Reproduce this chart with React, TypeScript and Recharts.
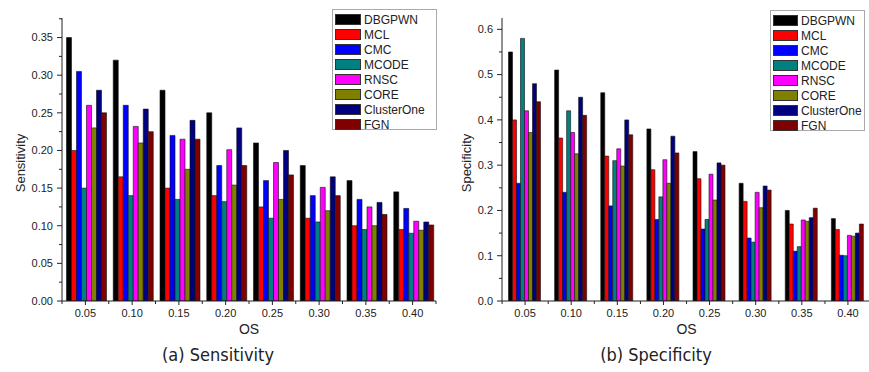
import React from 'react';
import { BarChart, Bar, XAxis, YAxis } from 'recharts';

const categories = ['0.05', '0.10', '0.15', '0.20', '0.25', '0.30', '0.35', '0.40'];
const methods = ['DBGPWN', 'MCL', 'CMC', 'MCODE', 'RNSC', 'CORE', 'ClusterOne', 'FGN'];
const colors = ['#000000', '#ff0000', '#0000ff', '#008080', '#ff00ff', '#808000', '#000080', '#800000'];

// (a) Sensitivity
const sensDBGPWN = [0.35, 0.32, 0.28, 0.25, 0.21, 0.18, 0.16, 0.145];
const sensMCL = [0.2, 0.165, 0.15, 0.14, 0.125, 0.11, 0.1, 0.095];
const sensCMC = [0.305, 0.26, 0.22, 0.18, 0.16, 0.14, 0.135, 0.123];
const sensMCODE = [0.15, 0.14, 0.135, 0.132, 0.11, 0.105, 0.095, 0.09];
const sensRNSC = [0.26, 0.232, 0.215, 0.201, 0.184, 0.151, 0.125, 0.106];
const sensCORE = [0.23, 0.21, 0.175, 0.154, 0.135, 0.12, 0.1, 0.094];
const sensClusterOne = [0.28, 0.255, 0.24, 0.23, 0.2, 0.165, 0.131, 0.105];
const sensFGN = [0.25, 0.225, 0.215, 0.18, 0.1675, 0.14, 0.115, 0.101];

// (b) Specificity
const specDBGPWN = [0.55, 0.51, 0.46, 0.38, 0.33, 0.26, 0.2, 0.182];
const specMCL = [0.4, 0.36, 0.32, 0.29, 0.27, 0.22, 0.17, 0.158];
const specCMC = [0.26, 0.24, 0.21, 0.18, 0.159, 0.139, 0.11, 0.101];
const specMCODE = [0.58, 0.42, 0.31, 0.23, 0.18, 0.13, 0.12, 0.1];
const specRNSC = [0.42, 0.372, 0.336, 0.312, 0.28, 0.24, 0.179, 0.145];
const specCORE = [0.372, 0.325, 0.298, 0.26, 0.223, 0.206, 0.176, 0.143];
const specClusterOne = [0.48, 0.45, 0.4, 0.364, 0.305, 0.254, 0.184, 0.15];
const specFGN = [0.44, 0.41, 0.367, 0.327, 0.3, 0.245, 0.205, 0.17];

const sensTicks = [0, 0.025, 0.05, 0.075, 0.1, 0.125, 0.15, 0.175, 0.2, 0.225, 0.25, 0.275, 0.3, 0.325, 0.35, 0.375];
const specTicks = [0, 0.05, 0.1, 0.15, 0.2, 0.25, 0.3, 0.35, 0.4, 0.45, 0.5, 0.55, 0.6];

const buildRows = (series: number[][]) =>
  categories.map((os, i) => {
    const row: any = { os };
    methods.forEach((m, j) => (row[m] = series[j][i]));
    return row;
  });

const sensRows = buildRows([sensDBGPWN, sensMCL, sensCMC, sensMCODE, sensRNSC, sensCORE, sensClusterOne, sensFGN]);
const specRows = buildRows([specDBGPWN, specMCL, specCMC, specMCODE, specRNSC, specCORE, specClusterOne, specFGN]);

const FONT = '"Liberation Sans", Arial, sans-serif';
const AXIS = '#222';

const makeYTick = (step: number, digits: number) => (props: any) => {
  const { x, y, payload } = props;
  const ax = x + 9;
  const major = Math.abs(payload.value / step - Math.round(payload.value / step)) < 1e-6;
  return (
    <g>
      <line x1={ax - (major ? 5 : 3)} x2={ax} y1={y} y2={y} stroke={AXIS} strokeWidth={1} />
      {major && (
        <text x={x} y={y} dy="0.35em" textAnchor="end" fontSize={11} fontFamily={FONT} fill="#222">
          {payload.value.toFixed(digits)}
        </text>
      )}
    </g>
  );
};

const makeXTick = (bw: number) => (props: any) => {
  const { x, y, payload, index } = props;
  const ay = y - 8;
  return (
    <g>
      <line x1={x} x2={x} y1={ay} y2={ay + 4} stroke={AXIS} />
      <line x1={x - bw / 2} x2={x - bw / 2} y1={ay} y2={ay + 3} stroke={AXIS} />
      {index === categories.length - 1 && (
        <line x1={x + bw / 2} x2={x + bw / 2} y1={ay} y2={ay + 3} stroke={AXIS} />
      )}
      <text x={x} y={y} dy="0.71em" textAnchor="middle" fontSize={11} fontFamily={FONT} fill="#222">
        {payload.value}
      </text>
    </g>
  );
};

const LegendBox = ({ left, top, width, swatch }: { left: number; top: number; width: number; swatch: number }) => (
  <div
    style={{
      position: 'absolute',
      left,
      top,
      width,
      height: 121,
      border: '1px solid #aaa',
      background: '#fff',
      boxSizing: 'border-box',
      paddingTop: 2,
    }}
  >
    {methods.map((m, i) => (
      <div key={m} style={{ display: 'flex', alignItems: 'center', height: 15 }}>
        <div
          style={{
            width: swatch,
            height: 11,
            marginLeft: 2,
            marginRight: 3,
            background: colors[i],
            border: '1px solid #333',
            boxSizing: 'border-box',
          }}
        />
        <span style={{ fontFamily: FONT, fontSize: 12, color: '#222' }}>{m}</span>
      </div>
    ))}
  </div>
);

const Panel = ({
  rows,
  ticks,
  top,
  step,
  digits,
  plotWidth,
  gap,
  rightMargin,
}: {
  rows: any[];
  ticks: number[];
  top: number;
  step: number;
  digits: number;
  plotWidth: number;
  gap: number;
  rightMargin: number;
}) => (
  <BarChart
    width={440}
    height={340}
    data={rows}
    margin={{ top: 18, right: rightMargin, left: 0, bottom: 0 }}
    barCategoryGap={gap}
    barGap={0}
  >
    <XAxis
      dataKey="os"
      height={39}
      stroke={AXIS}
      tickLine={false}
      tickSize={0}
      tickMargin={8}
      interval={0}
      tick={makeXTick(plotWidth / categories.length)}
      label={{ value: 'OS', position: 'insideBottom', offset: 6, fontSize: 14, fontFamily: FONT, fill: '#222' }}
    />
    <YAxis
      width={62}
      domain={[0, top]}
      ticks={ticks}
      stroke={AXIS}
      tickLine={false}
      tickSize={0}
      tickMargin={9}
      interval={0}
      allowDataOverflow
      tick={makeYTick(step, digits)}
    />
    {methods.map((m, i) => (
      <Bar key={m} dataKey={m} fill={colors[i]} stroke="#111" strokeWidth={0.6} isAnimationActive={false} />
    ))}
  </BarChart>
);

const yTitle = (cx: number): React.CSSProperties => ({
  position: 'absolute',
  left: cx - 60,
  top: 163 - 9,
  width: 120,
  height: 18,
  lineHeight: '18px',
  textAlign: 'center',
  transform: 'rotate(-90deg)',
  fontFamily: FONT,
  fontSize: 13,
  color: '#222',
});

const caption = (cx: number): React.CSSProperties => ({
  position: 'absolute',
  left: cx - 100,
  top: 342,
  width: 200,
  textAlign: 'center',
  fontFamily: '"Liberation Sans Narrow", "DejaVu Sans Condensed", sans-serif',
  fontSize: 18,
  lineHeight: '26px',
  color: '#222',
});

export default function App() {
  return (
    <div
      style={{
        position: 'fixed',
        left: 0,
        top: 0,
        width: 869,
        height: 372,
        overflow: 'hidden',
        background: '#fff',
      }}
    >
      <div style={{ position: 'absolute', left: 0, top: 0 }}>
        <Panel rows={sensRows} ticks={sensTicks} top={0.376} step={0.05} digits={2} plotWidth={374} gap={4.5} rightMargin={4} />
      </div>
      <div style={{ position: 'absolute', left: 440, top: 0 }}>
        <Panel rows={specRows} ticks={specTicks} top={0.625} step={0.1} digits={1} plotWidth={368} gap={6.5} rightMargin={9} />
      </div>
      <div style={yTitle(21)}>Sensitivity</div>
      <div style={yTitle(467)}>Specificity</div>
      <LegendBox left={332} top={9} width={105} swatch={26} />
      <LegendBox left={770} top={10} width={95} swatch={25} />
      <div style={caption(218)}>(a) Sensitivity</div>
      <div style={caption(656)}>(b) Specificity</div>
    </div>
  );
}
